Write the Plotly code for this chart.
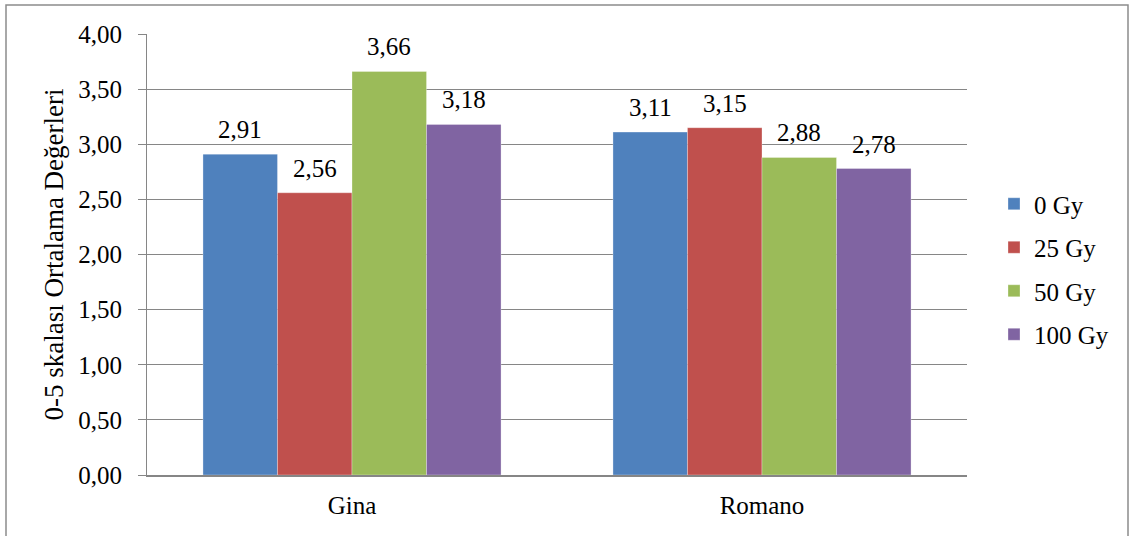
import plotly.graph_objects as go

# Cultivars on the x axis and irradiation doses as series
categories = ["Gina", "Romano"]
series_names = ["0 Gy", "25 Gy", "50 Gy", "100 Gy"]
values_0gy = [2.91, 3.11]
values_25gy = [2.56, 3.15]
values_50gy = [3.66, 2.88]
values_100gy = [3.18, 2.78]
y_ticks = [0.0, 0.5, 1.0, 1.5, 2.0, 2.5, 3.0, 3.5, 4.0]

colors = ["#4F81BD", "#C0504D", "#9BBB59", "#8064A2"]
all_values = [values_0gy, values_25gy, values_50gy, values_100gy]

FONT = "Liberation Serif"
FS = 25
W, H = 1129, 536
ML, MR, MT, MB = 147, W - 967, 34, H - 475
BARGAP = 0.273

fig = go.Figure()
for i, (name, vals) in enumerate(zip(series_names, all_values)):
    fig.add_trace(go.Bar(
        x=categories, y=vals, name=name,
        marker=dict(color=colors[i], line=dict(width=0.5, color="rgba(255,255,255,0.6)")),
        cliponaxis=False, legendgroup=name,
    ))

pw = W - ML - MR
ph = H - MT - MB
def px_x(p):
    return (p - ML) / pw
def px_y(p):
    return (H - MB - p) / ph

# value labels above each bar, shifted sideways to the bar's slot in the group
slot = pw / len(categories) * (1 - BARGAP) / len(series_names)
annotations = []
for i, vals in enumerate(all_values):
    for cat, v in zip(categories, vals):
        annotations.append(dict(
            x=cat, y=v, xref="x", yref="y",
            text=f"{v:.2f}".replace(".", ","),
            showarrow=False, yanchor="bottom",
            xshift=(i - (len(series_names) - 1) / 2) * slot, yshift=9,
            font=dict(family=FONT, size=FS, color="#000"),
        ))

fig.update_layout(
    width=W, height=H,
    margin=dict(l=ML, r=MR, t=MT, b=MB, pad=0),
    paper_bgcolor="white", plot_bgcolor="white",
    separators=",.",
    barmode="group", bargap=BARGAP, bargroupgap=0,
    font=dict(family=FONT, size=FS, color="#000"),
    showlegend=True,
    legend=dict(
        x=px_x(994), y=px_y(181), xanchor="left", yanchor="top",
        font=dict(family=FONT, size=FS, color="#000"),
        tracegroupgap=8, itemwidth=30, bgcolor="rgba(0,0,0,0)",
    ),
    xaxis=dict(
        showline=True, linecolor="#868686", linewidth=2,
        ticks="", showgrid=False,
        tickfont=dict(family=FONT, size=FS, color="#000"),
        ticklabelstandoff=7,
    ),
    yaxis=dict(
        range=[0, 4], tickvals=y_ticks, tickformat=".2f",
        showline=True, linecolor="#868686", linewidth=1,
        showgrid=True, gridcolor="#868686", gridwidth=1,
        ticks="outside", ticklen=8, tickcolor="#868686",
        tickfont=dict(family=FONT, size=FS, color="#000"),
        ticklabelstandoff=11,
        title=dict(text="0-5 skalası Ortalama Değerleri",
                   font=dict(family=FONT, size=27, color="#000"), standoff=6),
        zeroline=False,
    ),
    annotations=annotations,
    shapes=[dict(
        type="rect", xref="paper", yref="paper",
        x0=px_x(6), x1=px_x(1128), y0=px_y(545), y1=px_y(5),
        line=dict(color="#8c8c8c", width=1.5), layer="below",
    )],
)

fig.write_html("out.html")
